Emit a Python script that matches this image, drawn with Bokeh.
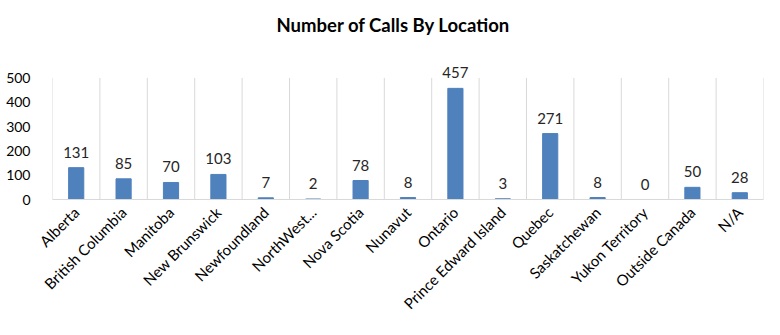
import math
from bokeh.plotting import figure
from bokeh.models import ColumnDataSource, Range1d, FixedTicker, Title, LabelSet
from bokeh.embed import file_html
from bokeh.resources import INLINE
from bokeh.core.properties import value

locations = ["Alberta", "British Columbia", "Manitoba", "New Brunswick", "Newfoundland",
             "NorthWest...", "Nova Scotia", "Nunavut", "Ontario", "Prince Edward Island",
             "Quebec", "Saskatchewan", "Yukon Territory", "Outside Canada", "N/A"]
calls = [131, 85, 70, 103, 7, 2, 78, 8, 457, 3, 271, 8, 0, 50, 28]
y_ticks = [0, 100, 200, 300, 400, 500]

FONT = "Lato"
n = len(locations)
xs = [i + 0.5 for i in range(n)]
src = ColumnDataSource(dict(x=xs, y=calls, label=[str(c) for c in calls]))
bounds = list(range(n + 1))
gsrc = ColumnDataSource(dict(x=bounds, y0=[y_ticks[0]] * len(bounds), y1=[y_ticks[-1]] * len(bounds)))

p = figure(width=780, height=335, output_backend="svg", toolbar_location=None,
           x_range=Range1d(0, n), y_range=Range1d(0, 625),
           min_border_left=52, min_border_right=17, min_border_top=0, min_border_bottom=136)
p.outline_line_color = None
p.background_fill_color = "white"
p.border_fill_color = "white"

t = Title(text="Number of Calls By Location", align="left", text_font=FONT,
          text_font_size="18.5px", text_font_style="bold", text_color="#000000",
          standoff=23, offset=224)
p.add_layout(t, "above")

p.segment(x0="x", x1="x", y0="y0", y1="y1", source=gsrc, line_color="#D9D9D9", line_width=1)
p.vbar(x="x", top="y", width=0.32, source=src, color="#4F81BD")
labels = LabelSet(x="x", y="y", text="label", source=src, text_align="center",
                  text_baseline="bottom", y_offset=10, text_font=value(FONT),
                  text_font_size="15px", text_color="#262626")
p.add_layout(labels)

p.xaxis.ticker = FixedTicker(ticks=xs)
p.xaxis.major_label_overrides = {x: s for x, s in zip(xs, locations)}
p.xaxis.major_label_orientation = math.pi / 4
p.xaxis.major_label_standoff = 4
p.xaxis.major_tick_line_color = None
p.xaxis.minor_tick_line_color = None
p.xaxis.axis_line_color = "#D9D9D9"
p.xaxis.major_label_text_font = FONT
p.xaxis.major_label_text_font_size = "15px"
p.xaxis.major_label_text_color = "#000000"

p.yaxis.ticker = FixedTicker(ticks=y_ticks)
p.yaxis.axis_line_color = None
p.yaxis.major_tick_line_color = None
p.yaxis.minor_tick_line_color = None
p.yaxis.major_label_standoff = 16
p.yaxis.major_label_text_font = FONT
p.yaxis.major_label_text_font_size = "14px"
p.yaxis.major_label_text_color = "#000000"

p.xgrid.grid_line_color = None
p.ygrid.grid_line_color = None

open("out.html", "w").write(file_html(p, INLINE))
